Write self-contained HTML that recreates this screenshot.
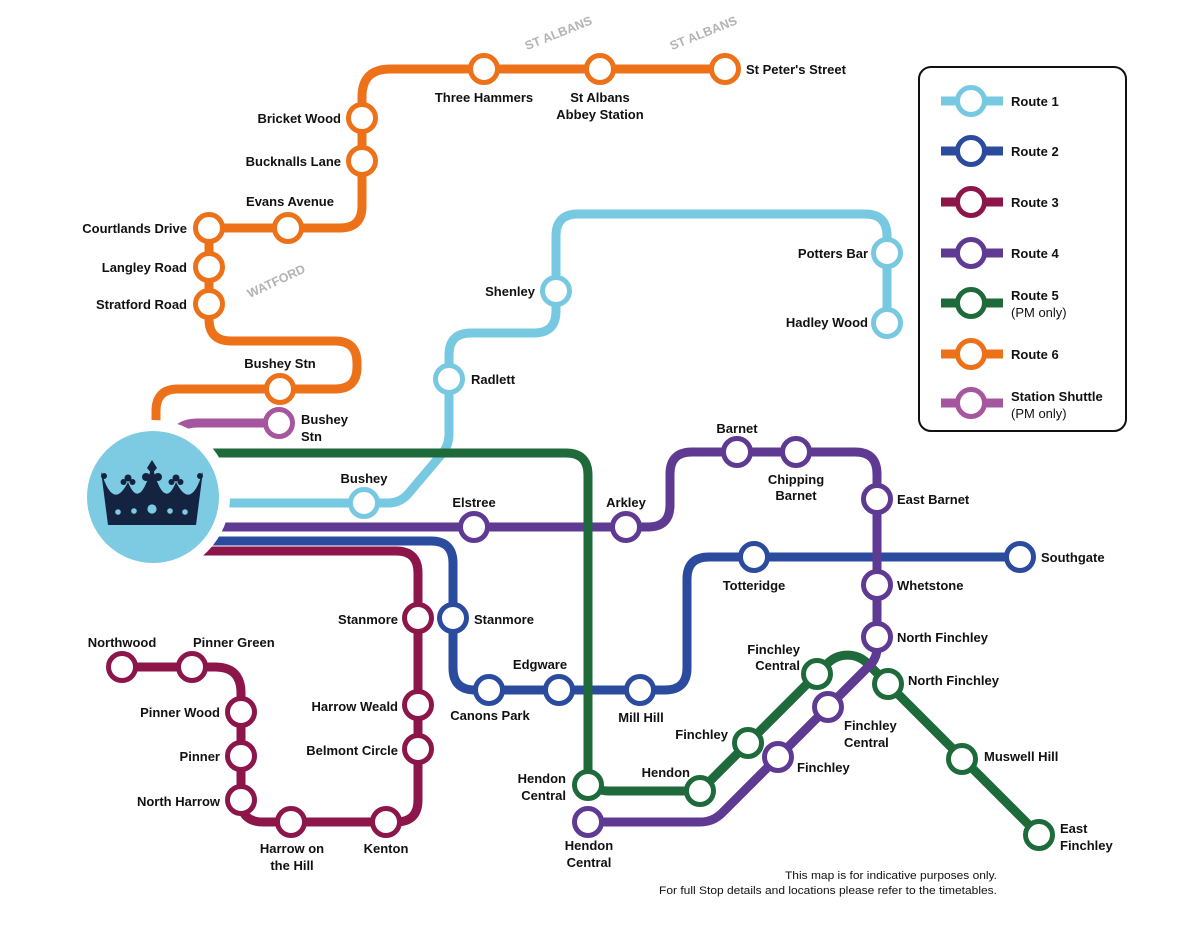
<!DOCTYPE html>
<html>
<head>
<meta charset="utf-8">
<style>
html,body{margin:0;padding:0;background:#fff;}
svg{display:block;}
text{font-family:"Liberation Sans",Arial,sans-serif;font-weight:bold;font-size:13px;fill:#111;}
.r{font-weight:normal;}
.g{fill:#b3b3b3;font-size:12.5px;}
.ft{font-weight:normal;font-size:11px;fill:#111;}
</style>
</head>
<body>
<svg width="1191" height="935" viewBox="0 0 1191 935" xmlns="http://www.w3.org/2000/svg">
<rect width="1191" height="935" fill="#fff"/>

<g fill="none" stroke-width="9" stroke-linejoin="round">
  <!-- Route 6 orange -->
  <path stroke="#ed7119" d="M725 69 H390 Q362 69 362 97 V206 Q362 228 340 228 H209 V319 Q209 341 231 341 H335 Q357 341 357 363 V367 Q357 389 335 389 H178 Q156 389 156 411 V470"/>
  <!-- Shuttle -->
  <path stroke="#a6559f" d="M279 423 H197 Q177 423 172 440 L165 470"/>
  <!-- Route 1 light blue -->
  <path stroke="#77c9e1" d="M200 503 H388 Q400 503 408 494 L441 455 Q449 446 449 434 V355 Q449 333 471 333 H534 Q556 333 556 311 V236 Q556 214 578 214 H865 Q887 214 887 236 V323"/>
  <!-- Route 3 maroon -->
  <path stroke="#8c1549" d="M200 551 H396 Q418 551 418 573 V800 Q418 822 396 822 H263 Q241 822 241 800 V693 Q241 667 215 667 H122"/>
  <!-- Route 2 blue -->
  <path stroke="#2b4b9e" d="M200 541 H431 Q453 541 453 563 V668 Q453 690 475 690 H665 Q687 690 687 668 V579 Q687 557 709 557 H1020"/>
  <!-- Route 4 purple -->
  <path stroke="#5f3a93" d="M200 527 H648 Q670 527 670 505 V474 Q670 452 692 452 H855 Q877 452 877 474 V648 Q877 656 872 663 L722 813 Q713 822 700 822 H588"/>
  <!-- Route 5 green -->
  <path stroke="#1e6a3b" d="M200 453 H566 Q588 453 588 475 V770 Q588 791 609 791 H700 L827.7 663.3 A28 28 0 0 1 867.3 663.3 L1039 835"/>
  <!-- purple overlay at crossing -->
  <path stroke="#5f3a93" d="M877 640 V648 Q877 656 872 663 L828 707"/>
</g>

<!-- Logo -->
<circle cx="153" cy="497" r="77" fill="#fff"/>
<circle cx="153" cy="497" r="66" fill="#7ccbe3"/>
<g fill="#14233f">
  <path d="M108 525 L101 471 Q113 512 128 482 Q140 512 152 465 Q164 512 176 482 Q191 512 203 471 L196 525 Z"/>
  <circle cx="128" cy="478" r="3.5"/>
  <circle cx="123.5" cy="482" r="3"/>
  <circle cx="132.5" cy="482" r="3"/>
  <circle cx="176" cy="478" r="3.5"/>
  <circle cx="171.5" cy="482" r="3"/>
  <circle cx="180.5" cy="482" r="3"/>
  <path d="M152 460 L157 468 L152 474 L147 468 Z"/>
  <circle cx="146" cy="477" r="4"/>
  <circle cx="158" cy="477" r="4"/>
  <circle cx="104" cy="476" r="3"/>
  <circle cx="200" cy="476" r="3"/>
</g>
<g fill="#7ccbe3">
  <circle cx="118" cy="512" r="2.8"/>
  <circle cx="134" cy="511" r="2.8"/>
  <circle cx="152" cy="509" r="4.6"/>
  <circle cx="170" cy="511" r="2.8"/>
  <circle cx="185" cy="512" r="2.8"/>
</g>

<!-- Station circles -->
<g fill="#fff" stroke-width="5">
  <g stroke="#ed7119">
    <circle cx="725" cy="69" r="13.5"/><circle cx="600" cy="69" r="13.5"/><circle cx="484" cy="69" r="13.5"/>
    <circle cx="362" cy="118" r="13.5"/><circle cx="362" cy="161" r="13.5"/><circle cx="288" cy="228" r="13.5"/>
    <circle cx="209" cy="228" r="13.5"/><circle cx="209" cy="267" r="13.5"/><circle cx="209" cy="304" r="13.5"/>
    <circle cx="280" cy="389" r="13.5"/>
  </g>
  <g stroke="#a6559f"><circle cx="279" cy="423" r="13.5"/></g>
  <g stroke="#77c9e1">
    <circle cx="364" cy="503" r="13.5"/><circle cx="449" cy="379" r="13.5"/><circle cx="556" cy="291" r="13.5"/>
    <circle cx="887" cy="253" r="13.5"/><circle cx="887" cy="323" r="13.5"/>
  </g>
  <g stroke="#8c1549">
    <circle cx="418" cy="618" r="13.5"/><circle cx="418" cy="705" r="13.5"/><circle cx="418" cy="749" r="13.5"/>
    <circle cx="386" cy="822" r="13.5"/><circle cx="291" cy="822" r="13.5"/><circle cx="241" cy="800" r="13.5"/>
    <circle cx="241" cy="756" r="13.5"/><circle cx="241" cy="712" r="13.5"/><circle cx="192" cy="667" r="13.5"/>
    <circle cx="122" cy="667" r="13.5"/>
  </g>
  <g stroke="#2b4b9e">
    <circle cx="453" cy="618" r="13.5"/><circle cx="489" cy="690" r="13.5"/><circle cx="559" cy="690" r="13.5"/>
    <circle cx="640" cy="690" r="13.5"/><circle cx="754" cy="557" r="13.5"/><circle cx="1020" cy="557" r="13.5"/>
  </g>
  <g stroke="#5f3a93">
    <circle cx="474" cy="527" r="13.5"/><circle cx="626" cy="527" r="13.5"/><circle cx="737" cy="452" r="13.5"/>
    <circle cx="796" cy="452" r="13.5"/><circle cx="877" cy="499" r="13.5"/><circle cx="877" cy="585" r="13.5"/>
    <circle cx="877" cy="637" r="13.5"/><circle cx="828" cy="707" r="13.5"/><circle cx="778" cy="757" r="13.5"/>
    <circle cx="588" cy="822" r="13.5"/>
  </g>
  <g stroke="#1e6a3b">
    <circle cx="588" cy="785" r="13.5"/><circle cx="700" cy="791" r="13.5"/><circle cx="748" cy="743" r="13.5"/>
    <circle cx="817" cy="674" r="13.5"/><circle cx="888" cy="684" r="13.5"/><circle cx="962" cy="759" r="13.5"/>
    <circle cx="1039" cy="835" r="13.5"/>
  </g>
</g>

<!-- Area labels -->
<text class="g" transform="translate(560 37) rotate(-22)" text-anchor="middle">ST ALBANS</text>
<text class="g" transform="translate(705 37) rotate(-22)" text-anchor="middle">ST ALBANS</text>
<text class="g" transform="translate(278 285) rotate(-25)" text-anchor="middle">WATFORD</text>

<!-- Orange labels -->
<text x="746" y="74">St Peter's Street</text>
<text x="484" y="102" text-anchor="middle">Three Hammers</text>
<text x="600" y="102" text-anchor="middle">St Albans</text>
<text x="600" y="119" text-anchor="middle">Abbey Station</text>
<text x="341" y="123" text-anchor="end">Bricket Wood</text>
<text x="341" y="166" text-anchor="end">Bucknalls Lane</text>
<text x="290" y="206" text-anchor="middle">Evans Avenue</text>
<text x="187" y="233" text-anchor="end">Courtlands Drive</text>
<text x="187" y="272" text-anchor="end">Langley Road</text>
<text x="187" y="309" text-anchor="end">Stratford Road</text>
<text x="280" y="368" text-anchor="middle">Bushey Stn</text>
<text x="301" y="424">Bushey</text>
<text x="301" y="441">Stn</text>

<!-- Light blue labels -->
<text x="364" y="483" text-anchor="middle">Bushey</text>
<text x="471" y="384">Radlett</text>
<text x="535" y="296" text-anchor="end">Shenley</text>
<text x="868" y="258" text-anchor="end">Potters Bar</text>
<text x="868" y="327" text-anchor="end">Hadley Wood</text>

<!-- Green labels -->
<text x="566" y="783" text-anchor="end">Hendon</text>
<text x="566" y="800" text-anchor="end">Central</text>
<text x="690" y="777" text-anchor="end">Hendon</text>
<text x="728" y="739" text-anchor="end">Finchley</text>
<text x="800" y="654" text-anchor="end">Finchley</text>
<text x="800" y="670" text-anchor="end">Central</text>
<text x="908" y="685">North Finchley</text>
<text x="984" y="761">Muswell Hill</text>
<text x="1060" y="833">East</text>
<text x="1060" y="850">Finchley</text>

<!-- Purple labels -->
<text x="474" y="507" text-anchor="middle">Elstree</text>
<text x="626" y="507" text-anchor="middle">Arkley</text>
<text x="737" y="433" text-anchor="middle">Barnet</text>
<text x="796" y="484" text-anchor="middle">Chipping</text>
<text x="796" y="500" text-anchor="middle">Barnet</text>
<text x="897" y="504">East Barnet</text>
<text x="897" y="590">Whetstone</text>
<text x="897" y="642">North Finchley</text>
<text x="844" y="730">Finchley</text>
<text x="844" y="747">Central</text>
<text x="797" y="772">Finchley</text>
<text x="589" y="850" text-anchor="middle">Hendon</text>
<text x="589" y="867" text-anchor="middle">Central</text>

<!-- Blue labels -->
<text x="474" y="624">Stanmore</text>
<text x="490" y="720" text-anchor="middle">Canons Park</text>
<text x="540" y="669" text-anchor="middle">Edgware</text>
<text x="641" y="722" text-anchor="middle">Mill Hill</text>
<text x="754" y="590" text-anchor="middle">Totteridge</text>
<text x="1041" y="562">Southgate</text>

<!-- Maroon labels -->
<text x="398" y="624" text-anchor="end">Stanmore</text>
<text x="398" y="711" text-anchor="end">Harrow Weald</text>
<text x="398" y="755" text-anchor="end">Belmont Circle</text>
<text x="386" y="853" text-anchor="middle">Kenton</text>
<text x="292" y="853" text-anchor="middle">Harrow on</text>
<text x="292" y="870" text-anchor="middle">the Hill</text>
<text x="220" y="806" text-anchor="end">North Harrow</text>
<text x="220" y="761" text-anchor="end">Pinner</text>
<text x="220" y="717" text-anchor="end">Pinner Wood</text>
<text x="193" y="647">Pinner Green</text>
<text x="122" y="647" text-anchor="middle">Northwood</text>

<!-- Footer -->
<text class="ft" x="997" y="879" text-anchor="end" textLength="212" lengthAdjust="spacingAndGlyphs">This map is for indicative purposes only.</text>
<text class="ft" x="997" y="894" text-anchor="end" textLength="338" lengthAdjust="spacingAndGlyphs">For full Stop details and locations please refer to the timetables.</text>

<!-- Legend -->
<rect x="919" y="67" width="207" height="364" rx="12" ry="12" fill="#fff" stroke="#111" stroke-width="2"/>
<g stroke-width="9">
  <line x1="941" y1="101" x2="1003" y2="101" stroke="#77c9e1"/>
  <line x1="941" y1="151" x2="1003" y2="151" stroke="#2b4b9e"/>
  <line x1="941" y1="202" x2="1003" y2="202" stroke="#8c1549"/>
  <line x1="941" y1="253" x2="1003" y2="253" stroke="#5f3a93"/>
  <line x1="941" y1="303" x2="1003" y2="303" stroke="#1e6a3b"/>
  <line x1="941" y1="354" x2="1003" y2="354" stroke="#ed7119"/>
  <line x1="941" y1="403" x2="1003" y2="403" stroke="#a6559f"/>
</g>
<g fill="#fff" stroke-width="5">
  <circle cx="971" cy="101" r="13.5" stroke="#77c9e1"/>
  <circle cx="971" cy="151" r="13.5" stroke="#2b4b9e"/>
  <circle cx="971" cy="202" r="13.5" stroke="#8c1549"/>
  <circle cx="971" cy="253" r="13.5" stroke="#5f3a93"/>
  <circle cx="971" cy="303" r="13.5" stroke="#1e6a3b"/>
  <circle cx="971" cy="354" r="13.5" stroke="#ed7119"/>
  <circle cx="971" cy="403" r="13.5" stroke="#a6559f"/>
</g>
<text x="1011" y="106">Route 1</text>
<text x="1011" y="156">Route 2</text>
<text x="1011" y="207">Route 3</text>
<text x="1011" y="258">Route 4</text>
<text x="1011" y="300">Route 5</text>
<text class="r" x="1011" y="317">(PM only)</text>
<text x="1011" y="359">Route 6</text>
<text x="1011" y="401">Station Shuttle</text>
<text class="r" x="1011" y="418">(PM only)</text>
</svg>
</body>
</html>
